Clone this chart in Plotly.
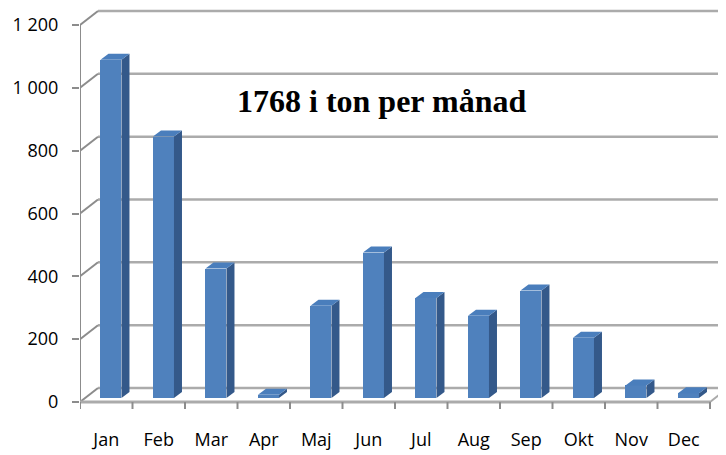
import plotly.graph_objects as go

# ---- data ----
months = ["Jan", "Feb", "Mar", "Apr", "Maj", "Jun", "Jul", "Aug", "Sep", "Okt", "Nov", "Dec"]
tons = [1077, 832, 412, 10, 294, 463, 318, 262, 342, 192, 40, 15]
y_tick_vals = [0, 200, 400, 600, 800, 1000, 1200]
y_tick_text = ["0", "200", "400", "600", "800", "1 000", "1 200"]
title_text = "1768 i ton per månad"

# ---- geometry (page pixels; the page body adds an 8px margin) ----
OFF = 8
PAGE_W, PAGE_H = 726, 455
W, H = PAGE_W - OFF, PAGE_H - OFF
PLOT_L, PLOT_R, PLOT_T, PLOT_B = 80, 726, 9, 415      # page px
ML, MR = PLOT_L - OFF, PAGE_W - PLOT_R
MT, MB = PLOT_T - OFF, PAGE_H - PLOT_B

PX_X = 52.5                 # px per category
PX_Y = 377 / 1200           # px per ton
X0 = -0.5
XMAX = X0 + (PLOT_R - PLOT_L) / PX_X
Y_ZERO_PX = 402             # page px of value 0
YMIN = -(PLOT_B - Y_ZERO_PX) / PX_Y
YMAX = (Y_ZERO_PX - PLOT_T) / PX_Y

FDX, FDY = 18 / PX_X, 14 / PX_Y      # wall/floor depth
BDX, BDY = 8 / PX_X, 6 / PX_Y        # bar depth
BASE = 4 / PX_Y                      # bar sits slightly back on the floor
B_OFF, B_W = -0.11, 0.40

FRONT = "#4F81BD"
SIDE = "#34598A"
TOP = "#4A7EBC"
GRID = "#ababab"
AXIS = "#8c8c8c"

xs = list(range(len(months)))

fig = go.Figure()

fig.add_trace(go.Bar(
    x=xs, y=tons, base=[BASE] * len(xs), width=B_W, offset=B_OFF,
    marker=dict(color=FRONT, line=dict(width=0)), hoverinfo="skip", showlegend=False,
))

side_x, side_y, top_x, top_y = [], [], [], []
for i, v in zip(xs, tons):
    r = i + B_OFF + B_W
    l = i + B_OFF
    side_x += [r, r, r + BDX, r + BDX, r, None]
    side_y += [BASE, BASE + v, BASE + v + BDY, BASE + BDY, BASE, None]
    top_x += [l, r, r + BDX, l + BDX, l, None]
    top_y += [BASE + v, BASE + v, BASE + v + BDY, BASE + v + BDY, BASE + v, None]

fig.add_trace(go.Scatter(x=side_x, y=side_y, mode="lines", fill="toself", fillcolor=SIDE,
                         line=dict(width=0, color=SIDE), hoverinfo="skip", showlegend=False))
fig.add_trace(go.Scatter(x=top_x, y=top_y, mode="lines", fill="toself", fillcolor=TOP,
                         line=dict(width=0, color=TOP), hoverinfo="skip", showlegend=False))

shapes = []
# back wall gridlines and left-wall diagonals
for v in y_tick_vals:
    shapes.append(dict(type="line", xref="x", yref="y", x0=X0 + FDX, y0=v + FDY, x1=XMAX + 1, y1=v + FDY,
                       line=dict(color=GRID, width=2.5), layer="below"))
    shapes.append(dict(type="line", xref="x", yref="y", x0=X0, y0=v, x1=X0 + FDX, y1=v + FDY,
                       line=dict(color=AXIS, width=2), layer="below"))
# front vertical axis
shapes.append(dict(type="line", xref="x", yref="y", x0=X0, y0=-6 / PX_Y, x1=X0, y1=y_tick_vals[-1],
                   line=dict(color=AXIS, width=2), layer="below"))
# floor front edge
shapes.append(dict(type="line", xref="x", yref="y", x0=X0, y0=0, x1=len(months) - 0.5, y1=0,
                   line=dict(color=GRID, width=3), layer="below"))
# floor right edge
shapes.append(dict(type="line", xref="x", yref="y", x0=len(months) - 0.5, y0=0,
                   x1=len(months) - 0.5 + FDX, y1=FDY, line=dict(color=GRID, width=2), layer="below"))
# floor ticks at category boundaries
for k in range(len(months) + 1):
    shapes.append(dict(type="line", xref="x", yref="y", x0=k - 0.5, y0=0, x1=k - 0.5, y1=-7 / PX_Y,
                       line=dict(color=AXIS, width=2), layer="below"))

fig.update_layout(
    width=W, height=H,
    margin=dict(l=ML, r=MR, t=MT, b=MB, pad=0),
    paper_bgcolor="white", plot_bgcolor="white",
    shapes=shapes,
    bargap=0,
    font=dict(family="Open Sans, Liberation Sans, sans-serif", size=18, color="#000"),
    xaxis=dict(range=[X0, XMAX], tickmode="array", tickvals=xs, ticktext=months,
               showgrid=False, zeroline=False, showline=False, ticks="",
               ticklabelstandoff=12, automargin=False, fixedrange=True),
    yaxis=dict(range=[YMIN, YMAX], tickmode="array", tickvals=y_tick_vals, ticktext=y_tick_text,
               showgrid=False, zeroline=False, showline=False, ticks="outside", ticklen=7,
               tickwidth=2, tickcolor=AXIS, ticklabelstandoff=10, automargin=False, fixedrange=True),
    annotations=[dict(text="<b>" + title_text + "</b>", xref="x", yref="y",
                      x=(381.5 - PLOT_L) / PX_X + X0, y=(Y_ZERO_PX - 101) / PX_Y,
                      xanchor="center", yanchor="middle", showarrow=False,
                      font=dict(family="Liberation Serif, Times New Roman, serif", size=32, color="#000"))],
)

fig.write_html("out.html")
